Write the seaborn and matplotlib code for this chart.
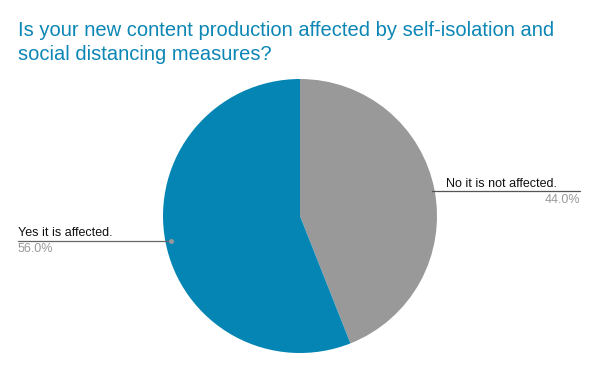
import matplotlib
matplotlib.use("Agg")
import matplotlib.pyplot as plt
import seaborn as sns
import numpy as np

labels = ["No it is not affected.", "Yes it is affected."]
values = [44.0, 56.0]
colors = ["#999999", "#0585b3"]
title = "Is your new content production affected by self-isolation and\nsocial distancing measures?"

sns.set_theme(style="white")
plt.rcParams['font.family'] = ['Liberation Sans', 'DejaVu Sans']

W, H = 600, 371
fig = plt.figure(figsize=(6, 3.71), dpi=100)
ax = fig.add_axes([0, 0, 1, 1])

cx, cy, r = 300, H - 216, 137
wedges, _ = ax.pie(values, colors=colors, startangle=90, counterclock=False,
                   center=(cx, cy), radius=r, frame=True,
                   wedgeprops=dict(linewidth=0))
ax.set_xlim(0, W)
ax.set_ylim(0, H)
ax.set_aspect('equal')
ax.axis('off')

fig.text(18 / W, 1 - 21 / H, title, ha='left', va='top', fontsize=14.5,
         color='#0b86b5', linespacing=1.3)

total = sum(values)
for w, lab, v in zip(wedges, labels, values):
    ang = np.deg2rad((w.theta1 + w.theta2) / 2)
    px = cx + r * 0.96 * np.cos(ang)
    py = cy + r * 0.96 * np.sin(ang)
    pct = f"{v / total * 100:.1f}%"
    if np.cos(ang) > 0:
        x_end = 580
        ax.plot([px, x_end], [py, py], color='#555555', lw=0.9)
        ax.plot([px], [py], 'o', color='#999999', ms=2.5)
        ax.text(446, py + 1.5, lab, ha='left', va='bottom', fontsize=9, color='#111111')
        ax.text(x_end, py - 2.5, pct, ha='right', va='top', fontsize=9, color='#999999')
    else:
        x_end = 18
        ax.plot([x_end, px], [py, py], color='#666666', lw=0.9)
        ax.plot([px], [py], 'o', color='#999999', ms=2.5)
        ax.text(x_end, py + 1.5, lab, ha='left', va='bottom', fontsize=9, color='#111111')
        ax.text(x_end, py - 2.5, pct, ha='left', va='top', fontsize=9, color='#999999')

fig.savefig("out.png", dpi=100, facecolor='white')
